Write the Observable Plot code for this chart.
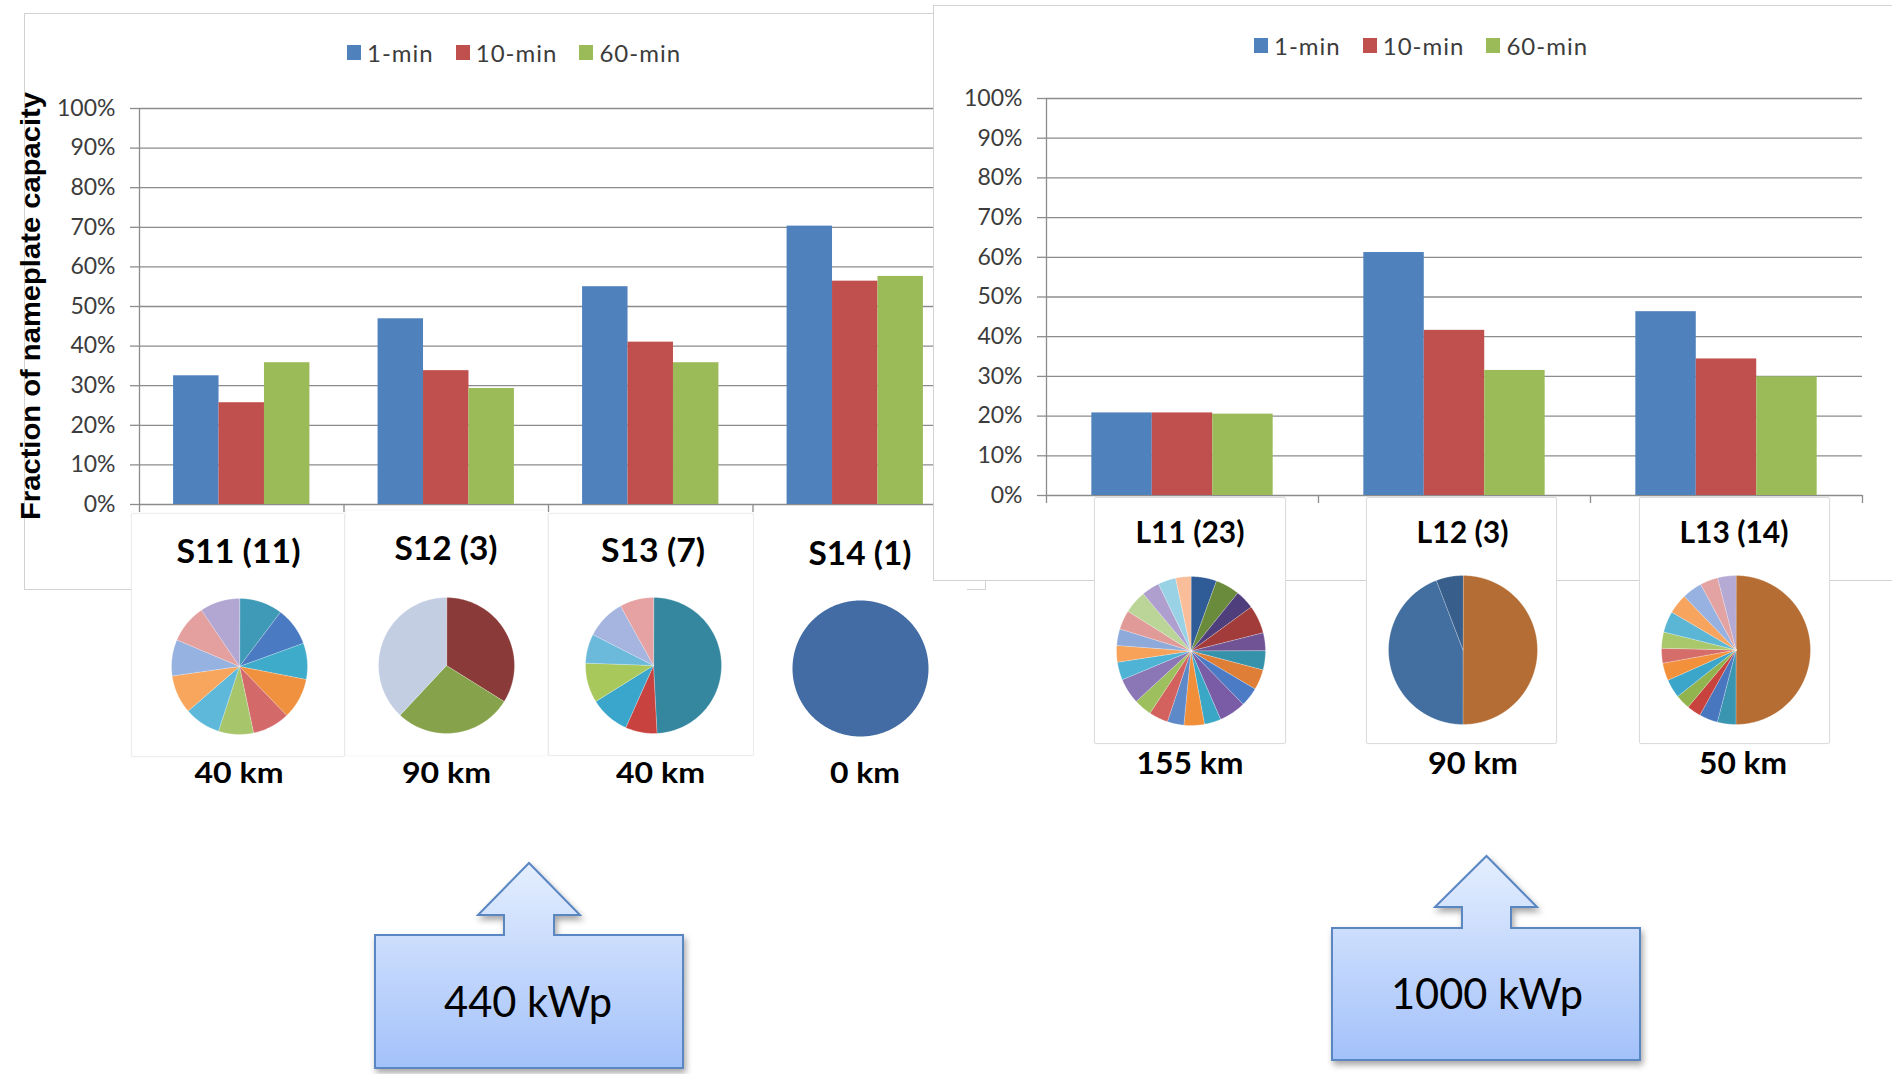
<!DOCTYPE html>
<html>
<head>
<meta charset="utf-8">
<script src="https://cdn.jsdelivr.net/npm/d3@7"></script>
<script src="https://cdn.jsdelivr.net/npm/@observablehq/plot@0.6"></script>
<style>
  html, body { margin: 0; padding: 0; background: #fff; }
  body { width: 1892px; height: 1074px; position: relative; overflow: hidden; font-family: Lato, "Open Sans", sans-serif; }
  .panel { position: absolute; background: #fff; border: 1px solid #d2d2d2; box-sizing: border-box; overflow: hidden; }
  .panel > svg { position: absolute; left: 0; top: 0; }
  .card { position: absolute; background: #fff; box-sizing: border-box; }
  .lg-swatches { font-family: Lato, sans-serif !important; font-size: 24px !important; letter-spacing: 1px; color: #3c3c3c !important; margin: 0 !important; position: absolute; }
  .lg-swatches-wrap { min-height: 0 !important; height: 30px; align-items: center; flex-wrap: nowrap !important; }
  .lg-swatch { margin-right: 22px !important; }
  .lg-swatch > svg { margin-right: 6px !important; }
</style>
</head>
<body>
<script>
// ---- data -------------------------------------------------------------
const series = ["1-min", "10-min", "60-min"];
const seriesColors = ["#4f81bd", "#c0504d", "#9bbb59"];

// small plants (440 kWp): site label (number of systems), ramp as fraction of capacity
const smallSites = ["S11 (11)", "S12 (3)", "S13 (7)", "S14 (1)"];
const small1min = [0.325, 0.469, 0.550, 0.703];
const small10min = [0.257, 0.338, 0.410, 0.564];
const small60min = [0.358, 0.293, 0.358, 0.576];
const smallDistances = ["40 km", "90 km", "40 km", "0 km"];

// large plants (1000 kWp)
const largeSites = ["L11 (23)", "L12 (3)", "L13 (14)"];
const large1min = [0.208, 0.612, 0.463];
const large10min = [0.208, 0.416, 0.344];
const large60min = [0.205, 0.315, 0.299];
const largeDistances = ["155 km", "90 km", "50 km"];

const capacityLabels = ["440 kWp", "1000 kWp"];
const yTicks = [0, 0.1, 0.2, 0.3, 0.4, 0.5, 0.6, 0.7, 0.8, 0.9, 1.0];
const yTitle = "Fraction of nameplate capacity";

// capacity shares of the systems in each site (degrees of arc)
const shareS11 = [37, 33, 31, 35, 32, 30, 31, 33, 31, 33, 34];
const colorS11 = ["#3f9ab7", "#4a7bc2", "#3fabcb", "#f0913f", "#d4696a", "#a7c66c", "#5db8d9", "#f8a65e", "#96b2e0", "#e3a09f", "#b2a6d2"];
const shareS12 = [122, 101, 137];
const colorS12 = ["#8b3a3a", "#86a24a", "#c3cee3"];
const shareS13 = [177, 27, 34, 34, 25, 34, 29];
const colorS13 = ["#35879f", "#c8433f", "#3ba6cc", "#a9c85c", "#6bbadb", "#a5b5df", "#e6a2a2"];
const shareS14 = [360];
const colorS14 = ["#426ca3"];
const shareL11 = [20, 19, 15, 22, 14, 15, 16, 15, 21, 13, 16, 13, 15, 14, 20, 14, 13, 13, 15, 18, 14, 14, 12];
const colorL11 = ["#2f5c96", "#6b8b3c", "#4e3e7b", "#a23c3a", "#6f5395", "#3691aa", "#df7f37", "#4a7bc4", "#7a5ca6", "#3ba7c7", "#f08e39", "#5d89c9", "#d3625f", "#9dbf5d", "#8b77b5", "#4eb3d5", "#f7a159", "#8eaadb", "#e09a98", "#bad597", "#ae9fcf", "#99d1e5", "#f9be99"];
const shareL12 = [180, 159, 21];
const colorL12 = ["#b46e35", "#436ea0", "#385e8c"];
const shareL13 = [180, 14.5, 14.5, 11, 11.5, 14.5, 13.7, 11.6, 12.7, 16.5, 15.5, 15.7, 14, 14.3];
const colorL13 = ["#b56d34", "#3a95b1", "#4877bf", "#c8423e", "#92b44f", "#3ba6ca", "#f2903c", "#d56e6b", "#a9c86b", "#5bb6d6", "#f7a45f", "#97b1e0", "#e2a3a2", "#b5aad4"];

// ---- styling ----------------------------------------------------------
const GRID = "#8c8c8c";
const TEXT = "#3c3c3c";
const GAP = 1.5; // space between groups, in bar widths

// ---- grouped bar chart --------------------------------------------------
function barChart(sites, values, layout) {
  const rows = sites.flatMap((site, i) => series.map((s, j) => ({site, i, j, series: s, value: values[j][i]})));
  const slot = 1 / (series.length + GAP);
  return Plot.plot({
    ...layout,
    style: {fontFamily: "Lato, sans-serif", fontSize: "23px", color: TEXT, background: "transparent", overflow: "visible"},
    x: {domain: [0, sites.length]},
    y: {domain: [0, 1]},
    color: {domain: series, range: seriesColors},
    marks: [
      Plot.gridY(yTicks, {stroke: GRID, strokeOpacity: 1, strokeWidth: 1.3}),
      Plot.axisY(yTicks, {tickSize: 9, tickPadding: 15, tickFormat: d3.format(".0%"), stroke: GRID, strokeOpacity: 1, strokeWidth: 1.3, fill: TEXT, label: null}),
      Plot.axisX(d3.range(sites.length + 1), {tickSize: 8, tickFormat: () => "", stroke: GRID, strokeOpacity: 1, strokeWidth: 1.3, label: null}),
      Plot.ruleX([0], {stroke: GRID, strokeWidth: 1.3}),
      Plot.rect(rows, {
        x1: d => d.i + slot * (GAP / 2 + d.j),
        x2: d => d.i + slot * (GAP / 2 + d.j + 1),
        y1: 0,
        y2: "value",
        fill: "series"
      })
    ]
  });
}

// ---- pie chart drawn as closed wedges -----------------------------------
function pieChart(shares, colors, radius) {
  const arcs = d3.pie().sort(null).value(d => d)(shares);
  const pts = arcs.flatMap((a, k) => {
    const n = Math.max(2, Math.ceil((a.endAngle - a.startAngle) / 0.01));
    const out = [{k, color: colors[k], x: 0, y: 0}];
    for (let s = 0; s <= n; ++s) {
      const t = a.startAngle + (a.endAngle - a.startAngle) * s / n;
      out.push({k, color: colors[k], x: Math.sin(t), y: Math.cos(t)});
    }
    return out;
  });
  return Plot.plot({
    width: 2 * radius, height: 2 * radius, margin: 0,
    style: {background: "transparent", overflow: "visible"},
    x: {domain: [-1, 1], axis: null},
    y: {domain: [-1, 1], axis: null},
    color: {type: "identity"},
    marks: [
      Plot.line(pts, {x: "x", y: "y", z: "k", fill: "color", curve: "linear-closed",
        stroke: shares.length > 1 ? "#ffffff" : "none", strokeOpacity: 0.45, strokeWidth: 0.6})
    ]
  });
}

function place(el, left, top, z) {
  el.style.position = "absolute";
  el.style.left = left + "px";
  el.style.top = top + "px";
  el.style.zIndex = z;
  document.body.append(el);
  return el;
}

function panel(left, top, width, height, z) {
  const div = document.createElement("div");
  div.className = "panel";
  div.style.width = width + "px";
  div.style.height = height + "px";
  return place(div, left, top, z);
}

function card(left, top, width, height, border, z) {
  const div = document.createElement("div");
  div.className = "card";
  div.style.width = width + "px";
  div.style.height = height + "px";
  div.style.border = `1px solid ${border}`;
  if (border !== "#ffffff") { div.style.borderRadius = "2px"; div.style.boxShadow = "0 0 2px rgba(0,0,0,0.06)"; }
  return place(div, left, top, z);
}

function legend(parent, left, top) {
  const lg = Plot.legend({color: {domain: series, range: seriesColors}, className: "lg", swatchWidth: 14, swatchHeight: 15});
  lg.style.left = left + "px";
  lg.style.top = top + "px";
  parent.append(lg);
}

// ---- left chart: 440 kWp ------------------------------------------------
const leftPanel = panel(24, 13, 962, 577, 1);
leftPanel.append(barChart(smallSites, [small1min, small10min, small60min],
  {width: 960, height: 575, marginLeft: 114, marginTop: 94, marginRight: 28, marginBottom: 85}));
legend(leftPanel, 322, 23);

// cards that hold the site pies
card(131, 513, 214, 244, "#ececec", 2);
card(345, 510, 203, 246, "#f9f9f9", 2);
card(548, 513, 206, 243, "#ececec", 2);
card(754, 513, 213, 243, "#ffffff", 2);

// ---- right chart: 1000 kWp ----------------------------------------------
const rightPanel = panel(933, 5, 1000, 576, 3);
rightPanel.append(barChart(largeSites, [large1min, large10min, large60min],
  {width: 960, height: 574, marginLeft: 112, marginTop: 92, marginRight: 32, marginBottom: 85}));
legend(rightPanel, 320, 24);

card(1094, 497, 192, 247, "#dcdcdc", 4);
card(1366, 497, 191, 247, "#dcdcdc", 4);
card(1639, 497, 191, 247, "#dcdcdc", 4);

// ---- pies ---------------------------------------------------------------
const pieLayout = [
  {shares: shareS11, colors: colorS11, cx: 239, cy: 666, r: 68},
  {shares: shareS12, colors: colorS12, cx: 446, cy: 665, r: 68},
  {shares: shareS13, colors: colorS13, cx: 653, cy: 665, r: 68},
  {shares: shareS14, colors: colorS14, cx: 860, cy: 668, r: 68},
  {shares: shareL11, colors: colorL11, cx: 1190, cy: 650, r: 74.5},
  {shares: shareL12, colors: colorL12, cx: 1462, cy: 649, r: 74.5},
  {shares: shareL13, colors: colorL13, cx: 1735, cy: 649, r: 74.5}
];
for (const p of pieLayout) place(pieChart(p.shares, p.colors, p.r), p.cx - p.r, p.cy - p.r, 5);

// ---- labels and capacity callouts ----------------------------------------
const svg = d3.create("svg").attr("width", 1892).attr("height", 1074)
  .style("position", "absolute").style("left", "0px").style("top", "0px").style("z-index", 6)
  .style("pointer-events", "none");

const defs = svg.append("defs");
const grad = defs.append("linearGradient").attr("id", "calloutFill").attr("x1", 0).attr("y1", 0).attr("x2", 0).attr("y2", 1);
grad.append("stop").attr("offset", "0%").attr("stop-color", "#e4eefe");
grad.append("stop").attr("offset", "100%").attr("stop-color", "#a3c1fa");
const shadow = defs.append("filter").attr("id", "calloutShadow").attr("x", "-10%").attr("y", "-10%").attr("width", "130%").attr("height", "130%");
shadow.append("feDropShadow").attr("dx", 2).attr("dy", 4).attr("stdDeviation", 3).attr("flood-color", "#000").attr("flood-opacity", 0.35);

// y-axis title of the left chart
svg.append("text")
  .attr("transform", "translate(40,306) rotate(-90)")
  .attr("text-anchor", "middle")
  .attr("textLength", 428).attr("lengthAdjust", "spacingAndGlyphs")
  .style("font", "bold 27px 'Liberation Sans', Arial, sans-serif").style("fill", "#000")
  .text(yTitle);

const titleFont = "bold 32px Lato, sans-serif";
const smallTitlePos = [{x: 238.5, y: 563, w: 124}, {x: 446, y: 560, w: 103}, {x: 653, y: 562, w: 104}, {x: 860, y: 565, w: 103}];
const smallKmPos = [{x: 239, y: 783, w: 89}, {x: 446.5, y: 783, w: 89}, {x: 660.5, y: 783, w: 89}, {x: 865, y: 783, w: 70}];
const largeTitlePos = [{x: 1190, y: 543, w: 109}, {x: 1462.5, y: 543, w: 92}, {x: 1734, y: 543, w: 109}];
const largeKmPos = [{x: 1190, y: 774, w: 107}, {x: 1473, y: 774, w: 90}, {x: 1743, y: 774, w: 88}];

function label(text, pos, font) {
  svg.append("text").attr("x", pos.x).attr("y", pos.y).attr("text-anchor", "middle")
    .attr("textLength", pos.w).attr("lengthAdjust", "spacingAndGlyphs")
    .style("font", font).style("fill", "#000").text(text);
}
smallSites.forEach((t, i) => label(t, smallTitlePos[i], titleFont));
smallDistances.forEach((t, i) => label(t, smallKmPos[i], "bold 29px Lato, sans-serif"));
largeSites.forEach((t, i) => label(t, largeTitlePos[i], "bold 30px Lato, sans-serif"));
largeDistances.forEach((t, i) => label(t, largeKmPos[i], "bold 30px Lato, sans-serif"));

// up-arrow callouts carrying the plant capacity
function callout(box, stem, head, tipY, text, textPos) {
  const [x0, y0, x1, y1] = box;
  const cx = (stem[0] + stem[1]) / 2;
  const path = `M${x0},${y0} H${stem[0]} V${head[2]} H${head[0]} L${cx},${tipY} L${head[1]},${head[2]} H${stem[1]} V${y0} H${x1} V${y1} H${x0} Z`;
  svg.append("path").attr("d", path).attr("fill", "url(#calloutFill)")
    .attr("stroke", "#5a86c2").attr("stroke-width", 2).attr("stroke-linejoin", "miter")
    .attr("filter", "url(#calloutShadow)");
  svg.append("text").attr("x", textPos.x).attr("y", textPos.y).attr("text-anchor", "middle")
    .attr("textLength", textPos.w).attr("lengthAdjust", "spacingAndGlyphs")
    .style("font", "42px Lato, sans-serif").style("fill", "#000").text(text);
}
callout([375, 935, 683, 1068], [504, 554], [478, 580, 915], 863, capacityLabels[0], {x: 528, y: 1017, w: 168});
callout([1332, 928, 1640, 1060], [1462, 1511], [1435, 1537, 907], 856, capacityLabels[1], {x: 1487, y: 1009, w: 192});

document.body.append(svg.node());
</script>
</body>
</html>
